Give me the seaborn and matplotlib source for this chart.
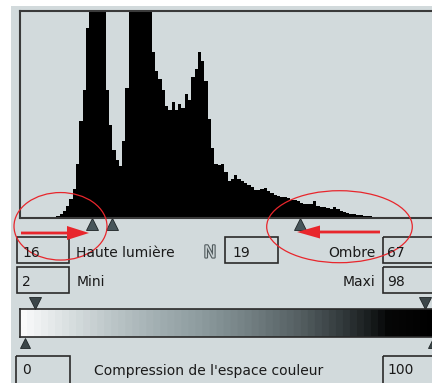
import numpy as np
import matplotlib.pyplot as plt
import matplotlib.patheffects as pe
import matplotlib.transforms as mtransforms
from matplotlib.colors import LinearSegmentedColormap
from matplotlib.patches import Rectangle, Ellipse, FancyArrow
import seaborn as sns

# histogramme des niveaux (0-255), hauteur relative au cadre (coupe au-dessus de 1)
niveaux = list(range(22, 214, 2))
hauteurs = [
    0.01, 0.02, 0.035, 0.06, 0.09, 0.14, 0.26, 0.47, 0.62, 0.92,
    1.3, 1.3, 1.3, 1.3, 1.15, 0.62, 0.45, 0.33, 0.28, 0.25,
    0.37, 0.63, 1.0, 1.3, 1.3, 1.3, 1.3, 1.3, 1.2, 0.8,
    0.71, 0.67, 0.62, 0.54, 0.52, 0.56, 0.52, 0.55, 0.53, 0.6,
    0.57, 0.68, 0.72, 0.80, 0.76, 0.66, 0.48, 0.34, 0.26, 0.256,
    0.26, 0.22, 0.18, 0.19, 0.21, 0.19, 0.18, 0.17, 0.16, 0.15,
    0.135, 0.135, 0.14, 0.145, 0.13, 0.12, 0.11, 0.105, 0.103, 0.103,
    0.095, 0.087, 0.087, 0.08, 0.072, 0.07, 0.068, 0.07, 0.08, 0.06,
    0.055, 0.053, 0.05, 0.044, 0.055, 0.045, 0.032, 0.027, 0.024, 0.02,
    0.017, 0.015, 0.013, 0.012, 0.011, 0.011,
]
curseurs_histo = [44, 56, 170]

# curseurs de la barre de compression (en %)
curseurs_haut = [3.6, 96.4]
curseurs_bas = [1.2, 98.3]

# textes du dialogue
champs = ["16", "19", "67", "2", "98", "0", "100"]
etiquettes = ["Haute lumière", "Ombre", "Mini", "Maxi", "Compression de l'espace couleur"]

W, H = 432, 383
GRIS = "#d2dadc"
ROUGE = "#e8262c"
TRAIT = "#2a2a2a"

sns.set_style("white")
plt.rcParams['font.family'] = ['DejaVu Sans']

fig = plt.figure(figsize=(W / 100, H / 100), dpi=100, facecolor="white")


def fig_rect(x0, y0, x1, y1):
    return [x0 / W, 1 - y1 / H, (x1 - x0) / W, (y1 - y0) / H]


# fond du panneau
bg = fig.add_axes([0, 0, 1, 1], zorder=0)
bg.set_xlim(0, W)
bg.set_ylim(H, 0)
bg.axis("off")
bg.add_patch(Rectangle((11, 6), W - 11, H - 6, color=GRIS, lw=0))

# histogramme
ax = fig.add_axes(fig_rect(20, 11, 440, 218), zorder=1)
ax.set_facecolor(GRIS)
sns.histplot(x=np.array(niveaux) + 1, weights=hauteurs, binwidth=2, binrange=(22, 214),
             element="step", fill=True, color="black", alpha=1, linewidth=0, ax=ax)
ax.set_xlim(0, 255)
ax.set_ylim(0, 1)
ax.set_xticks([])
ax.set_yticks([])
ax.set_xlabel("")
ax.set_ylabel("")
for s in ax.spines.values():
    s.set_visible(True)
    s.set_color("#3a3a3a")
    s.set_linewidth(1.5)
trans = mtransforms.blended_transform_factory(ax.transData, ax.transAxes)
ax.plot(curseurs_histo, [-0.031] * len(curseurs_histo), ls="none", marker="^", ms=8,
        color="#47555a", mec="#1e2426", mew=0.6, transform=trans, clip_on=False)

# barre de compression
cmap = LinearSegmentedColormap.from_list("comp", [
    (0.0, "#fafafa"), (0.095, "#dde3e4"), (0.214, "#bcc6c8"), (0.333, "#a0adb0"),
    (0.43, "#8d9b9e"), (0.548, "#727f82"), (0.667, "#555f62"), (0.762, "#353d3f"),
    (0.833, "#1a1e1f"), (0.881, "#060707"), (1.0, "#000000")], N=60)
axg = fig.add_axes(fig_rect(20, 309, 440, 337), zorder=1)
axg.imshow(np.linspace(0, 1, 420)[None, :], cmap=cmap, aspect="auto", extent=[0, 100, 0, 1])
axg.set_xlim(0, 100)
axg.set_xticks([])
axg.set_yticks([])
for s in axg.spines.values():
    s.set_color(TRAIT)
    s.set_linewidth(1.2)
tg = mtransforms.blended_transform_factory(axg.transData, axg.transAxes)
axg.plot(curseurs_haut, [1.21] * 2, ls="none", marker="v", ms=8, color="#3c4649",
         mec="#1e2426", mew=0.6, transform=tg, clip_on=False)
axg.plot(curseurs_bas, [-0.21] * 2, ls="none", marker="^", ms=7, color="#3c4649",
         mec="#1e2426", mew=0.6, transform=tg, clip_on=False)

# surcouche : champs, textes, annotations rouges
ov = fig.add_axes([0, 0, 1, 1], zorder=3)
ov.set_xlim(0, W)
ov.set_ylim(H, 0)
ov.axis("off")
ov.patch.set_alpha(0)

boites = [(16.7, 237, 52.6, 26), (225, 237, 53.3, 26), (382.7, 237, 60, 26),
          (16.7, 267, 52.6, 26), (382.7, 267, 60, 26),
          (16, 355.7, 54, 40), (382.7, 355.7, 60, 40)]
pos_champs = [(22, 257), (232, 257), (387, 257), (22, 286.5), (387, 286.5),
              (22, 374.5), (387, 374.5)]
for (x, y, w, h), (tx, ty), t in zip(boites, pos_champs, champs):
    ov.add_patch(Rectangle((x, y), w, h, fill=False, ec=TRAIT, lw=1.2))
    ov.text(tx, ty, t, fontsize=10, color="#1a1a1a", ha="left", va="baseline")

pos_etiq = [(76.5, 257, "left"), (375.5, 257, "right"), (76.5, 286.5, "left"),
            (375.5, 286.5, "right"), (94, 374.5, "left")]
for (tx, ty, ha), t in zip(pos_etiq, etiquettes):
    ov.text(tx, ty, t, fontsize=10, color="#1a1a1a", ha=ha, va="baseline")

ov.text(210, 257.5, "N", fontsize=12, color="#c9d1d3", ha="center", va="baseline",
        path_effects=[pe.Stroke(linewidth=1.6, foreground="#505a5d"), pe.Normal()])

ov.add_patch(Ellipse((60.5, 226.3), 93, 67.5, fill=False, ec=ROUGE, lw=0.9))
ov.add_patch(Ellipse((339.5, 226.7), 145.6, 72, fill=False, ec=ROUGE, lw=0.9))
ov.add_patch(FancyArrow(21, 233, 68, 0, width=2.8, head_width=14, head_length=22,
                        length_includes_head=True, color=ROUGE, lw=0))
ov.add_patch(FancyArrow(380, 232, -83, 0, width=2.8, head_width=13, head_length=23,
                        length_includes_head=True, color=ROUGE, lw=0))

fig.savefig("out.png", dpi=100)
